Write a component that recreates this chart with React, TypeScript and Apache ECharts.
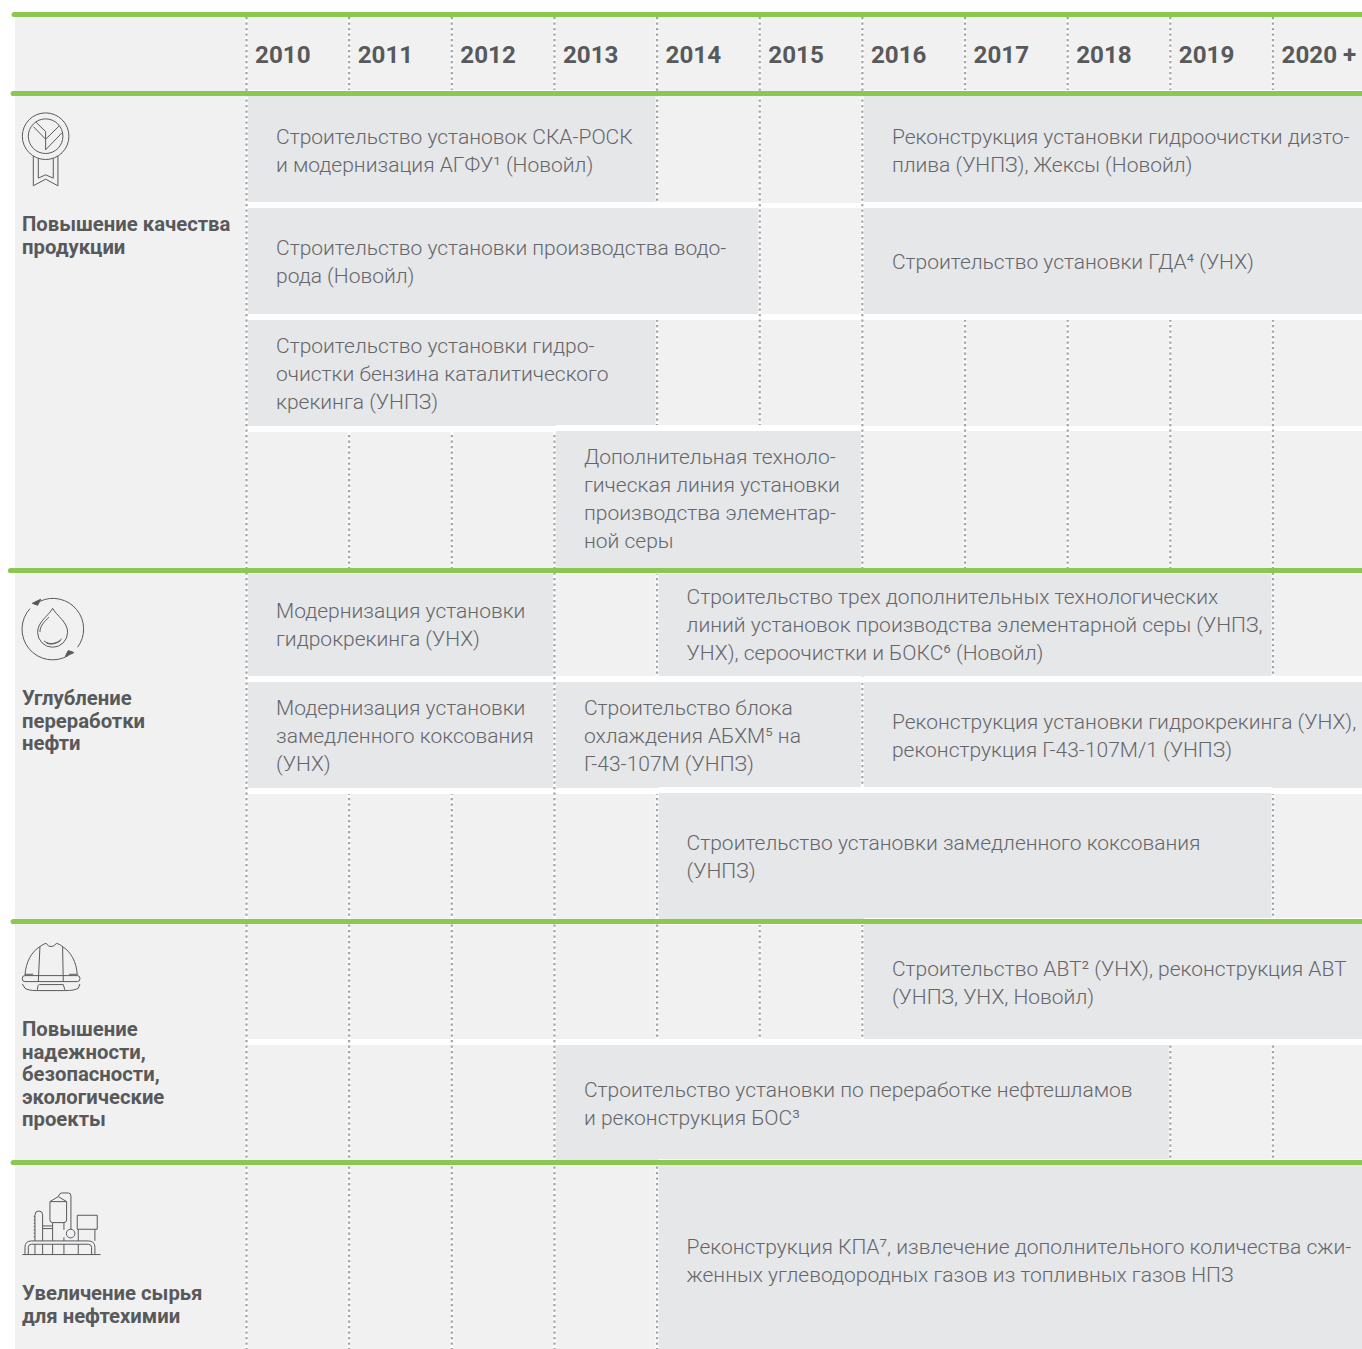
import React, { useEffect, useRef } from "react";
import * as echarts from "echarts";

// ---------- data ----------
const years = [2010, 2011, 2012, 2013, 2014, 2015, 2016, 2017, 2018, 2019, 2020];
const yearLabels = ["2010", "2011", "2012", "2013", "2014", "2015", "2016", "2017", "2018", "2019", "2020 +"];
const groupNames = [
  "Повышение качества\nпродукции",
  "Углубление\nпереработки\nнефти",
  "Повышение\nнадежности,\nбезопасности,\nэкологические\nпроекты",
  "Увеличение сырья\nдля нефтехимии",
];
const barRow = [0, 0, 1, 1, 2, 3, 4, 4, 5, 5, 5, 6, 7, 8, 9];
const barStart = [2010, 2016, 2010, 2016, 2010, 2013, 2010, 2014, 2010, 2013, 2016, 2014, 2016, 2013, 2014];
const barEnd = [2014, 2021, 2015, 2021, 2014, 2016, 2013, 2020, 2013, 2016, 2021, 2020, 2021, 2019, 2021];
const barText = [
  "Строительство установок СКА-РОСК\nи модернизация АГФУ¹ (Новойл)",
  "Реконструкция установки гидроочистки дизто-\nплива (УНПЗ), Жексы (Новойл)",
  "Строительство установки производства водо-\nрода (Новойл)",
  "Строительство установки ГДА⁴ (УНХ)",
  "Строительство установки гидро-\nочистки бензина каталитического\nкрекинга (УНПЗ)",
  "Дополнительная техноло-\nгическая линия установки\nпроизводства элементар-\nной серы",
  "Модернизация установки\nгидрокрекинга (УНХ)",
  "Строительство трех дополнительных технологических\nлиний установок производства элементарной серы (УНПЗ,\nУНХ), сероочистки и БОКС⁶ (Новойл)",
  "Модернизация установки\nзамедленного коксования\n(УНХ)",
  "Строительство блока\nохлаждения АБХМ⁵ на\nГ-43-107М (УНПЗ)",
  "Реконструкция установки гидрокрекинга (УНХ),\nреконструкция Г-43-107М/1 (УНПЗ)",
  "Строительство установки замедленного коксования\n(УНПЗ)",
  "Строительство АВТ² (УНХ), реконструкция АВТ\n(УНПЗ, УНХ, Новойл)",
  "Строительство установки по переработке нефтешламов\nи реконструкция БОС³",
  "Реконструкция КПА⁷, извлечение дополнительного количества сжи-\nженных углеводородных газов из топливных газов НПЗ",
];

// ---------- layout ----------
const W = 1362;
const H = 1349;
const rowTop = [96, 208, 320, 431, 574, 682, 793, 924, 1045, 1165];
const rowBottom = [203, 314, 426, 568, 677, 788, 919, 1039, 1160, 1349];
const rowTextY = [151, 262, 374, 499, 625, 736, 857, 983, 1104, 1261];
const ruleY = [14.5, 93.5, 570.5, 921.5, 1162.5];
const ruleLeft = [11.7, 10.7, 8, 10.7, 10.7];
const groupTextY = [235.5, 720.5, 1074, 1304.5];
const DARK = "#58595b";
const TEXT = "#656669";

const circle = (cx: number, cy: number, r: number) =>
  `M${cx - r} ${cy}a${r} ${r} 0 1 0 ${2 * r} 0a${r} ${r} 0 1 0 ${-2 * r} 0`;

echarts.graphic.registerShape(
  "iconMedal",
  echarts.graphic.extendPath(
    circle(137, 409, 70) + circle(137, 409, 52) +
      "M100 380L137 418M108 367L137 395M137 395V450L187 398M137 418L178 378" +
      "M100 468V558L137 538L174 558V468M115 476V535L137 525L160 535V476",
    {}
  )
);
echarts.graphic.registerShape(
  "iconDrop",
  echarts.graphic.extendPath(
    "M90 146A92 92 0 0 0 205 287M120 124A92 92 0 0 1 233 262" +
      "M158 145C146 168 113 185 113 217A45 45 0 0 0 203 217C203 185 170 168 158 145" +
      "M147 172C133 185 120 198 120 216M132 243C148 256 170 252 185 237M140 250C155 256 172 250 182 242",
    {}
  )
);
echarts.graphic.registerShape(
  "iconArrows",
  echarts.graphic.extendPath("M97 130L122 118L113 136ZM222 278L196 290L205 272Z", {})
);
echarts.graphic.registerShape(
  "iconHelmet",
  echarts.graphic.extendPath(
    "M75 195C78 155 95 125 120 110Q128 103 138 100Q153 120 170 100Q180 103 188 110C212 125 230 155 232 195" +
      "M120 110L115 215M188 110L190 215M75 193H100M207 193H232" +
      "M75 197H232Q240 197 240 205V207Q240 215 232 215H75Q67 215 67 207V205Q67 197 75 197" +
      "M67 222L75 235Q85 242 110 242H195Q225 242 235 235L240 222M115 224L112 240M190 224L195 240M118 224H190",
    {}
  )
);
echarts.graphic.registerShape(
  "iconPlant",
  echarts.graphic.extendPath(
    "M67 314H302M75 314V292Q75 273 95 273H265Q285 273 285 292V314" +
      "M85 314V292Q85 283 95 283H265Q275 283 275 292V314" +
      "M105 283V314M128 283V314M158 283V314M192 283V314M235 283V314" +
      "M105 273V195Q105 183 117 183Q128 183 128 195V273" +
      "M150 155V210Q150 218 158 218H192Q200 218 200 210V155L175 140ZM150 155H200" +
      "M158 218V273M192 218V240M192 262V273" +
      circle(212, 251, 13) +
      "M175 140L180 131Q183 129 188 129H205Q213 129 213 138V238" +
      "M232 196H292V238H232ZM235 238V273M285 238V273M128 228H158M128 236H158" +
      "M103 198V202M103 208V212M103 218V222M103 228V232M103 238V242M103 248V252M103 258V262",
    {}
  )
);

const icon = (type: string, oy: number, fill = "none") => ({
  type,
  x: 0,
  y: oy,
  scaleX: 1 / 3,
  scaleY: 1 / 3,
  z: 20,
  silent: true,
  style: { fill, stroke: DARK, lineWidth: 3 },
});

export default function App() {
  const ref = useRef<HTMLDivElement>(null);
  useEffect(() => {
    const chart = echarts.init(ref.current!, undefined, { renderer: "svg" });
    const inset = 1.5;
    chart.setOption({
      animation: false,
      backgroundColor: "#ffffff",
      grid: { left: 246.5, right: 0, top: 0, bottom: 0, outerBoundsMode: "none" },
      xAxis: {
        type: "value",
        position: "top",
        min: 2010,
        max: 2010 + (W - 246.5) / 102.65,
        interval: 1,
        axisLine: { show: false },
        axisTick: { show: false },
        splitLine: { show: false },
        axisLabel: {
          inside: true,
          margin: 55,
          align: "left",
          verticalAlign: "middle",
          padding: [0, 0, 0, 8.5],
          fontFamily: "Roboto",
          fontWeight: 700,
          fontSize: 24.2,
          color: DARK,
          hideOverlap: false,
          formatter: (v: number) => {
            const i = years.indexOf(v);
            return i >= 0 ? yearLabels[i] : "";
          },
        },
      },
      yAxis: { type: "value", inverse: true, min: 0, max: H, show: false },
      graphic: [
        { type: "rect", z: -1, silent: true, shape: { x: 15, y: 17, width: W - 15, height: H - 17 }, style: { fill: "#f1f1f2" } },
        ...groupNames.map((t, i) => ({
          type: "text",
          z: 20,
          silent: true,
          x: 22,
          y: groupTextY[i],
          style: {
            text: t,
            fill: DARK,
            font: "700 20.3px Roboto",
            lineHeight: 22.5,
            verticalAlign: "middle",
          },
        })),
        icon("iconMedal", 0),
        icon("iconDrop", 560),
        icon("iconArrows", 560, DARK),
        icon("iconHelmet", 910),
        icon("iconPlant", 1150),
      ],
      series: [
        {
          // white strips between the rows
          type: "custom",
          z: 1,
          silent: true,
          data: rowTop.slice(1).map((t, i) => [rowBottom[i], t]),
          renderItem: (_p: any, api: any) => {
            if (api.value(1) - api.value(0) > 6.5) return null;
            const a = api.coord([2010, api.value(0)]);
            const b = api.coord([2021, api.value(1)]);
            return { type: "rect", shape: { x: a[0] + inset, y: a[1], width: b[0] - a[0], height: b[1] - a[1] }, style: { fill: "#ffffff" } };
          },
        },
        {
          // dotted year lines
          type: "custom",
          z: 2,
          silent: true,
          data: years.map((y) => [y]),
          renderItem: (_p: any, api: any) => {
            const a = api.coord([api.value(0), 17]);
            const b = api.coord([api.value(0), H]);
            const shape = { x1: a[0], y1: a[1], x2: b[0], y2: b[1] };
            return {
              type: "group",
              children: [
                { type: "line", shape, style: { stroke: "#ffffff", lineWidth: 3, opacity: 0.75 } },
                { type: "line", shape, style: { stroke: "#a2a4a7", lineWidth: 2.2, lineDash: [2.2, 3.3] } },
              ],
            };
          },
        },
        {
          // project bars
          type: "custom",
          z: 3,
          silent: true,
          data: barRow.map((r, i) => [barStart[i], barEnd[i], r]),
          renderItem: (p: any, api: any) => {
            const r = api.value(2);
            const a = api.coord([api.value(0), rowTop[r]]);
            const b = api.coord([api.value(1), rowBottom[r]]);
            const x = a[0] + inset;
            const w = b[0] - a[0] - inset * 2;
            return {
              type: "group",
              children: [
                { type: "rect", shape: { x, y: a[1] - 6, width: w, height: b[1] - a[1] + 12 }, style: { fill: "#ffffff" } },
                { type: "rect", shape: { x, y: a[1], width: w, height: b[1] - a[1] }, style: { fill: "#e6e7e9" } },
                {
                  type: "text",
                  x: a[0] + 29.5,
                  y: rowTextY[r],
                  style: {
                    text: barText[p.dataIndex],
                    fill: TEXT,
                    font: "300 21px Roboto",
                    lineHeight: 28,
                    verticalAlign: "middle",
                  },
                },
              ],
            };
          },
        },
        {
          // green rules
          type: "custom",
          z: 4,
          silent: true,
          data: ruleY.map((y, i) => [ruleLeft[i], y]),
          renderItem: (_p: any, api: any) => {
            const y = api.coord([2010, api.value(1)])[1];
            return {
              type: "line",
              shape: { x1: api.value(0) + 2.5, y1: y, x2: W, y2: y },
              style: { stroke: "#8cc751", lineWidth: 5.2, lineCap: "round" },
            };
          },
        },
      ],
    });
    return () => chart.dispose();
  }, []);
  return <div ref={ref} style={{ position: "absolute", left: 0, top: 0, width: W, height: H }} />;
}
